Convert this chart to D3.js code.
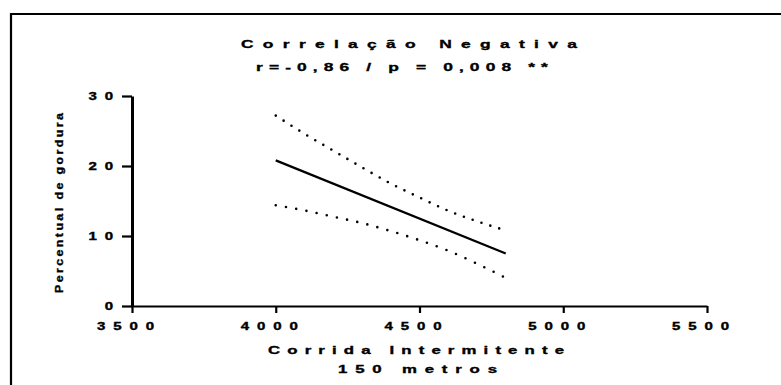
<!DOCTYPE html>
<html>
<head>
<meta charset="utf-8">
<script src="https://cdn.jsdelivr.net/npm/d3@7"></script>
<style>
  html, body { margin: 0; padding: 0; background: #fff; }
  svg { display: block; }
  text { font-family: "Liberation Sans", Arial, sans-serif; font-weight: bold; fill: #000;
         stroke: #000; stroke-width: 0.35px; }
</style>
</head>
<body>
<svg id="chart" width="781" height="385"></svg>
<script>
// Regression of body-fat percentage on intermittent-run distance
const titleText = "Correlação Negativa";
const subtitleText = "r=-0,86 / p = 0,008 **";
const xTitleLines = ["Corrida Intermitente", "150 metros"];
const yTitleText = "Percentual de gordura";

const xTicks = [3500, 4000, 4500, 5000, 5500];
const yTicks = [0, 10, 20, 30];

// fitted line
const fitX = [4000, 4800];
const fitY = [20.8, 7.5];

// 95% confidence band
const bandX = [4000, 4100, 4200, 4300, 4400, 4500, 4600, 4700, 4800];
const upperCI = [27.2, 24.6, 22.2, 19.8, 17.5, 15.5, 13.6, 12.1, 10.8];
const lowerCI = [14.4, 13.65, 12.75, 11.85, 10.7, 9.4, 7.9, 6.05, 4.0];

const svg = d3.select("#chart");
const SX = 1.5; // horizontal stretch of lettering

const x = d3.scaleLinear().domain([3500, 5500]).range([132, 707]);
const y = d3.scaleLinear().domain([0, 30]).range([306, 96]);

// outer frame (left and top edges)
svg.append("path")
  .attr("d", "M11,385V14H781")
  .attr("fill", "none").attr("stroke", "#000").attr("stroke-width", 2.2);

// stretched, spaced text placed so its inked extent starts at x0
function spacedText(g, str, size, x0, yb, width, sx = SX) {
  const t = g.append("text").attr("font-size", size).text(str)
    .attr("text-anchor", "start");
  const w0 = t.node().getComputedTextLength();
  const n = str.length;
  const ls = (width / sx - w0) / (n - 1);
  t.attr("letter-spacing", ls)
   .attr("transform", `translate(${x0},${yb}) scale(${sx},1)`);
  return t;
}

spacedText(svg, titleText, 11.6, 241, 48.3, 336);
spacedText(svg, subtitleText, 11.6, 256, 70.7, 292);
spacedText(svg, xTitleLines[0], 11.2, 268, 354, 296);
spacedText(svg, xTitleLines[1], 11.2, 338, 372.7, 159);

// y title, rotated
const yt = svg.append("g").attr("transform", "translate(62.7,293) rotate(-90)");
spacedText(yt, yTitleText, 10.8, 0, 0, 180, 1.15);

// axes
const xAxis = svg.append("g").attr("transform", "translate(0,306)")
  .call(d3.axisBottom(x).tickValues(xTicks).tickSize(7).tickSizeOuter(0).tickPadding(10)
    .tickFormat(d3.format("d")));
const yAxis = svg.append("g").attr("transform", "translate(132,0)")
  .call(d3.axisLeft(y).tickValues(yTicks).tickSize(10).tickSizeOuter(0).tickPadding(4)
    .tickFormat(d3.format("d")));

xAxis.select(".domain").attr("stroke-width", 2.2);
yAxis.select(".domain").attr("stroke-width", 3);
svg.selectAll(".tick line").attr("stroke-width", 2.2);
svg.selectAll(".tick text")
  .attr("font-size", 10).attr("font-family", null)
  .attr("letter-spacing", 5.3)
  .style("font-weight", "bold");
xAxis.selectAll(".tick text").attr("transform", `scale(${SX},1)`)
  .attr("x", -3 / SX).attr("dy", 0).attr("y", 24);
yAxis.selectAll(".tick text").attr("transform", `scale(${SX},1)`)
  .attr("x", -11 / SX).attr("dy", "0.36em");

// confidence band edges (dotted)
const bandLine = vals => d3.line()
  .x((d, i) => x(bandX[i]))
  .y((d) => y(d))
  .curve(d3.curveMonotoneX)(vals);

svg.append("path").attr("d", bandLine(upperCI))
  .attr("fill", "none").attr("stroke", "#000").attr("stroke-width", 2.6)
  .attr("stroke-linecap", "round").attr("stroke-dasharray", "0,9.3");
svg.append("path").attr("d", bandLine(lowerCI))
  .attr("fill", "none").attr("stroke", "#000").attr("stroke-width", 2.6)
  .attr("stroke-linecap", "round").attr("stroke-dasharray", "0,10.4");

// fitted line
svg.append("path")
  .attr("d", d3.line().x((d, i) => x(fitX[i])).y(d => y(d))(fitY))
  .attr("fill", "none").attr("stroke", "#000").attr("stroke-width", 2.3);
</script>
</body>
</html>
